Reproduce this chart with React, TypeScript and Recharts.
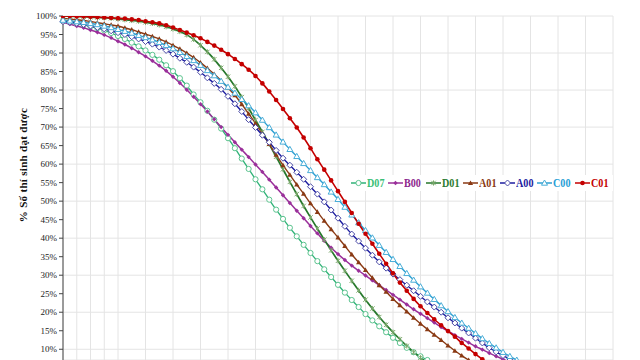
import { LineChart, Line, XAxis, YAxis, CartesianGrid, Legend } from 'recharts';

// values, one per half grid step, in %
const D07 = [
  98.6, 98.3, 98.0, 97.6, 97.2, 96.7, 96.1, 95.4, 94.6, 93.8,
  92.8, 91.8, 90.7, 89.5, 88.2, 86.7, 85.1, 83.2, 81.2, 78.8,
  76.7, 74.4, 72.0, 69.6, 67.0, 64.3, 61.5, 58.7, 55.9, 53.2,
  50.4, 47.7, 45.2, 42.8, 40.5, 38.2, 36.0, 33.8, 31.6, 29.5,
  27.4, 25.3, 23.3, 21.4, 19.5, 17.8, 16.2, 14.6, 13.1, 11.7,
  10.4, 9.2, 8.1, 7.1, 6.2,
];
const B00 = [
  98.3, 97.8, 97.3, 96.8, 96.2, 95.6, 94.9, 94.1, 93.2, 92.3,
  91.3, 90.2, 89.1, 87.9, 86.6, 85.2, 83.6, 81.9, 80.1, 78.2,
  76.2, 74.2, 72.1, 70.0, 67.9, 65.9, 63.9, 61.9, 59.9, 57.9,
  55.8, 53.7, 51.6, 49.5, 47.4, 45.4, 43.3, 41.3, 39.3, 37.4,
  35.7, 34.1, 32.6, 31.2, 29.9, 28.6, 27.3, 26.0, 24.7, 23.4,
  22.1, 20.8, 19.6, 18.4, 17.2, 16.0, 14.9, 13.8, 12.8, 11.8,
  10.8, 9.9, 9.0, 8.1, 7.3, 6.5,
];
const D01 = [
  100, 99.9, 99.9, 99.8, 99.7, 99.6, 99.5, 99.4, 99.2, 99.0,
  98.8, 98.6, 98.3, 98.0, 97.6, 97.1, 96.5, 95.8, 94.9, 93.7,
  92.1, 90.3, 88.3, 86.0, 83.6, 81.0, 78.1, 75.1, 71.9, 68.7,
  65.4, 62.0, 58.6, 55.2, 51.9, 48.7, 45.6, 42.6, 39.6, 36.7,
  33.9, 31.2, 28.5, 25.9, 23.4, 21.0, 18.7, 16.6, 14.6, 12.7,
  10.9, 9.2, 7.7, 6.3,
];
const A01 = [
  99.4, 99.2, 99.0, 98.8, 98.5, 98.2, 97.9, 97.6, 97.3, 96.8,
  96.3, 95.7, 95.1, 94.5, 93.8, 93.0, 92.1, 91.1, 90.0, 88.8,
  87.4, 85.9, 84.3, 82.5, 80.6, 78.6, 76.2, 73.6, 71.0, 68.2,
  65.4, 62.5, 59.7, 57.1, 54.5, 52.0, 49.4, 47.1, 44.7, 42.4,
  40.2, 37.9, 35.6, 33.5, 31.4, 29.3, 27.3, 25.5, 23.6, 21.9,
  20.2, 18.5, 16.9, 15.4, 13.9, 12.5, 11.0, 9.6, 8.3, 7.1,
  6.0,
];
const A00 = [
  98.5, 98.3, 98.0, 97.7, 97.3, 96.9, 96.5, 96.0, 95.5, 95.0,
  94.4, 93.8, 93.1, 92.4, 91.6, 90.7, 89.7, 88.6, 87.5, 86.2,
  84.8, 83.3, 81.8, 80.2, 78.3, 76.3, 74.2, 72.0, 69.9, 67.8,
  65.9, 63.7, 61.6, 59.7, 57.8, 55.9, 53.9, 51.9, 49.8, 47.6,
  45.4, 43.2, 41.1, 39.2, 37.3, 35.4, 33.6, 31.9, 30.3, 28.8,
  27.3, 25.8, 24.3, 22.8, 21.4, 20.0, 18.5, 17.1, 15.7, 14.4,
  13.0, 11.7, 10.4, 9.3, 8.3, 7.4, 6.5,
];
const C00 = [
  98.9, 98.7, 98.5, 98.3, 98.0, 97.7, 97.3, 96.9, 96.4, 95.9,
  95.4, 94.8, 94.2, 93.6, 92.9, 92.1, 91.2, 90.2, 89.1, 88.0,
  86.7, 85.3, 83.9, 82.4, 80.8, 79.2, 77.5, 75.8, 73.9, 71.9,
  69.9, 67.9, 66.0, 64.0, 62.1, 60.2, 58.3, 56.4, 54.5, 52.5,
  50.5, 48.4, 46.3, 44.2, 42.1, 40.1, 38.1, 36.2, 34.3, 32.4,
  30.5, 28.7, 26.9, 25.2, 23.5, 21.8, 20.2, 18.6, 17.1, 15.7,
  14.3, 12.9, 11.6, 10.4, 9.2, 8.1, 7.1, 6.1,
];
const C01 = [
  100, 100, 99.9, 99.9, 99.8, 99.7, 99.6, 99.5, 99.4, 99.3,
  99.1, 98.9, 98.6, 98.3, 98.0, 97.5, 96.9, 96.2, 95.5, 94.8,
  94.0, 93.0, 92.0, 90.9, 89.7, 88.4, 87.0, 85.5, 83.8, 81.8,
  79.6, 77.3, 74.9, 72.4, 69.9, 67.2, 64.3, 61.3, 58.5, 55.6,
  52.7, 49.8, 46.8, 43.9, 41.2, 38.5, 35.8, 33.1, 30.5, 28.0,
  25.8, 23.6, 21.6, 19.8, 18.1, 16.5, 14.9, 13.4, 11.7, 10.2,
  8.7, 7.3, 6.0,
];

const yTicks = [10, 15, 20, 25, 30, 35, 40, 45, 50, 55, 60, 65, 70, 75, 80, 85, 90, 95, 100];
const stepCount = 81;
const xTicks = Array.from({ length: 41 }, (_, i) => i * 2);

const data = Array.from({ length: stepCount }, (_, i) => ({
  x: i,
  D07: D07[i],
  B00: B00[i],
  D01: D01[i],
  A01: A01[i],
  A00: A00[i],
  C00: C00[i],
  C01: C01[i],
}));

type MarkerKind = 'circleOpen' | 'diamondFill' | 'star' | 'triFill' | 'diamondOpen' | 'triOpen' | 'circleFill';

const series: { key: string; color: string; text: string; marker: MarkerKind; mark: string; width: number }[] = [
  { key: 'D07', color: '#2fb277', text: '#3cbf78', marker: 'circleOpen', mark: '#5cc48f', width: 1.3 },
  { key: 'B00', color: '#9a2f9a', text: '#8e2a8e', marker: 'diamondFill', mark: '#9a2f9a', width: 1.5 },
  { key: 'D01', color: '#24772a', text: '#2e7d32', marker: 'star', mark: '#7aa86a', width: 1.7 },
  { key: 'A01', color: '#8a3a14', text: '#8a3a14', marker: 'triFill', mark: '#8a3a14', width: 1.4 },
  { key: 'A00', color: '#1c1ca0', text: '#1c1ca0', marker: 'diamondOpen', mark: '#4a4aa6', width: 1.4 },
  { key: 'C00', color: '#2c9fd2', text: '#2a9fd6', marker: 'triOpen', mark: '#4aaed8', width: 1.4 },
  { key: 'C01', color: '#c40000', text: '#c40000', marker: 'circleFill', mark: '#c40000', width: 1.6 },
];

function Marker({ kind, x, y, color }: { kind: MarkerKind; x: number; y: number; color: string }) {
  switch (kind) {
    case 'circleOpen':
      return <circle cx={x} cy={y} r={2.6} fill="#fff" stroke={color} strokeWidth={1} />;
    case 'diamondFill':
      return <polygon points={`${x},${y - 2.2} ${x + 2.2},${y} ${x},${y + 2.2} ${x - 2.2},${y}`} fill={color} />;
    case 'star':
      return (
        <path
          d={`M${x - 2.2},${y - 2.2}L${x + 2.2},${y + 2.2}M${x - 2.2},${y + 2.2}L${x + 2.2},${y - 2.2}M${x},${y - 2.6}L${x},${y + 2.6}`}
          stroke={color}
          strokeWidth={1}
        />
      );
    case 'triFill':
      return <polygon points={`${x},${y - 2.6} ${x + 2.6},${y + 2} ${x - 2.6},${y + 2}`} fill={color} />;
    case 'diamondOpen':
      return <polygon points={`${x},${y - 3} ${x + 3},${y} ${x},${y + 3} ${x - 3},${y}`} fill="#fff" stroke={color} strokeWidth={1} />;
    case 'triOpen':
      return <polygon points={`${x},${y - 3} ${x + 3},${y + 2.2} ${x - 3},${y + 2.2}`} fill="#fff" stroke={color} strokeWidth={1} />;
    default:
      return <circle cx={x} cy={y} r={2.3} fill={color} />;
  }
}

const makeDot = (kind: MarkerKind, color: string) => (p: any) => {
  const { cx, cy, index } = p;
  if (cx == null || cy == null || Number.isNaN(cy)) return <g key={`d-${index}`} />;
  return (
    <g key={`d-${index}`}>
      <Marker kind={kind} x={cx} y={cy} color={color} />
    </g>
  );
};

const renderLegend = () => (
  <div
    style={{
      display: 'flex',
      background: '#fff',
      fontFamily: '"Liberation Serif", serif',
      fontWeight: 'bold',
      fontSize: 13,
      lineHeight: '16px',
    }}
  >
    {series.map((s) => (
      <div key={s.key} style={{ display: 'flex', alignItems: 'center', width: 37.3, flex: 'none' }}>
        <svg width={15} height={10} style={{ flex: 'none' }}>
          <line x1={0} y1={5} x2={15} y2={5} stroke={s.color} strokeWidth={1.5} />
          <Marker kind={s.marker} x={7.5} y={5} color={s.mark} />
        </svg>
        <span
          style={{
            color: s.text,
            display: 'inline-block',
            transform: 'scaleX(0.78)',
            transformOrigin: 'left center',
            marginLeft: 1,
          }}
        >
          {s.key}
        </span>
      </div>
    ))}
  </div>
);

export default function App() {
  return (
    <div style={{ position: 'absolute', left: 0, top: 0, width: 640, height: 360, background: '#fff' }}>
      <LineChart
        width={640}
        height={360}
        data={data}
        margin={{ top: 16, right: 27, bottom: 0, left: 0 }}
        style={{ fontFamily: '"Liberation Serif", serif' }}
      >
        <CartesianGrid stroke="#e4e4e4" strokeWidth={1} />
        <XAxis type="number" dataKey="x" domain={[0, 80]} ticks={xTicks} hide />
        <YAxis
          domain={[7.1, 100]}
          allowDataOverflow
          ticks={yTicks}
          width={63}
          tickSize={4}
          tick={{ fontSize: 9, fill: '#222' }}
          tickFormatter={(v: number) => `${v}%`}
          axisLine={{ stroke: '#444' }}
          tickLine={{ stroke: '#444' }}
          label={{
            content: () => (
              <text
                x={27}
                y={165}
                transform="rotate(-90 27 165)"
                textAnchor="middle"
                fontSize={11}
                fontWeight="bold"
                fill="#111"
                letterSpacing={0.3}
              >
                % Số thí sinh đạt được
              </text>
            ),
          }}
        />
        <Legend
          layout="horizontal"
          verticalAlign="middle"
          align="center"
          content={renderLegend}
          wrapperStyle={{ position: 'absolute', top: 175, left: 351, width: 262, height: 16 }}
        />
        {series.map((s) => (
          <Line
            key={s.key}
            type="monotone"
            dataKey={s.key}
            stroke={s.color}
            strokeWidth={s.width}
            dot={makeDot(s.marker, s.mark)}
            activeDot={false}
            isAnimationActive={false}
          />
        ))}
      </LineChart>
    </div>
  );
}
